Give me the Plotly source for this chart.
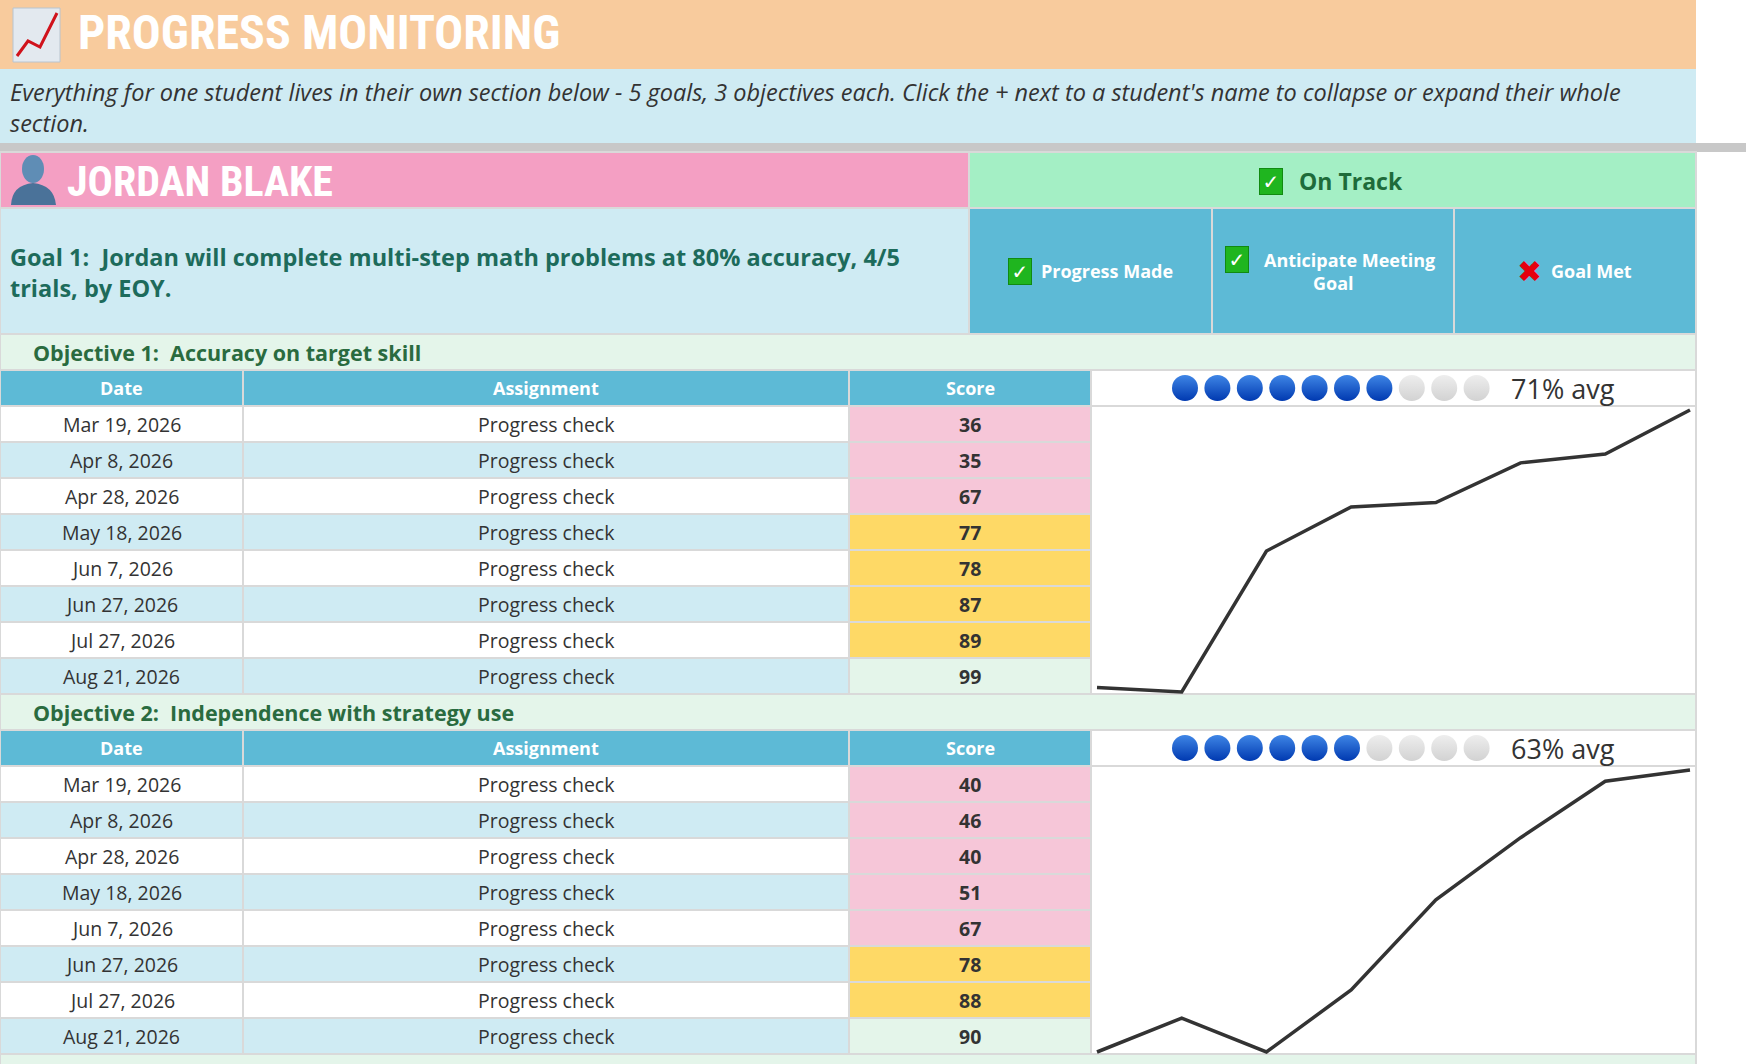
import math
import plotly.graph_objects as go

# ---- sheet content ----
page_title = "PROGRESS MONITORING"
intro_text = ("Everything for one student lives in their own section below - 5 goals, 3 objectives each. "
              "Click the + next to a student's name to collapse or expand their whole<br>section.")
student_name = "JORDAN BLAKE"
overall_status = "On Track"
goal_text = "Goal 1:  Jordan will complete multi-step math problems at 80% accuracy, 4/5<br>trials, by EOY."
status_labels = ["Progress Made", "Anticipate Meeting<br>Goal", "Goal Met"]
status_flags = [True, True, False]

objective_names = ["Objective 1:  Accuracy on target skill",
                   "Objective 2:  Independence with strategy use"]
table_columns = ["Date", "Assignment", "Score"]
check_dates = ["Mar 19, 2026", "Apr 8, 2026", "Apr 28, 2026", "May 18, 2026",
               "Jun 7, 2026", "Jun 27, 2026", "Jul 27, 2026", "Aug 21, 2026"]
assignments = ["Progress check"] * 8
obj1_scores = [36, 35, 67, 77, 78, 87, 89, 99]
obj2_scores = [40, 46, 40, 51, 67, 78, 88, 90]
objective_scores = [obj1_scores, obj2_scores]

# ---- page geometry (pixels) ----
W, H = 1746, 1064
SHEET_R = 1696
COLS = [0, 243, 849, 1091, SHEET_R]          # date | assignment | score | chart
STATUS_COLS = [969, 1212, 1454, SHEET_R]
ROW_H = 36
OBJ_TOP = 334
OBJ_BLOCK = ROW_H * 10

PEACH = "#F8CB9D"
SKY = "#CFEBF3"
PINK = "#F49FC3"
TRACK = "#A4EFC5"
BLUE = "#5DBAD6"
MINT = "#E4F5EA"
SCORE_LOW = "#F6C6D8"
SCORE_MID = "#FED966"
GRID = "#D9D9D9"
TEXT = "#333333"

BODY = "Open Sans, Lato, sans-serif"
DISPLAY = "Liberation Sans Narrow, Roboto Condensed, Open Sans, sans-serif"

shapes = []
annotations = []


def cell(x0, y0, x1, y1, fill, lw=2):
    shapes.append(dict(type="rect", xref="x", yref="y", x0=x0, y0=y0, x1=x1, y1=y1,
                       fillcolor=fill, line=dict(color=GRID, width=lw), layer="below"))


def label(x, y, s, size, color=TEXT, weight="normal", style="normal",
          xanchor="center", family=BODY, align="center"):
    annotations.append(dict(x=x, y=y, xref="x", yref="y", text=s, showarrow=False,
                            xanchor=xanchor, yanchor="middle", align=align,
                            font=dict(family=family, size=size, color=color,
                                      weight=weight, style=style)))


def check_box(x, y, ok):
    if ok:
        annotations.append(dict(x=x, y=y, xref="x", yref="y", text="✓", showarrow=False,
                                width=20, height=23, bgcolor="#1FB51F", bordercolor="#118A11",
                                borderwidth=1, borderpad=1,
                                font=dict(family="DejaVu Sans", size=20, color="white", weight="bold")))
    else:
        label(x, y, "✖", 30, color="#E5000E", family="DejaVu Sans")


def score_fill(v):
    if v < 70:
        return SCORE_LOW
    if v < 90:
        return SCORE_MID
    return MINT


# header bands
cell(0, 0, SHEET_R, 69, PEACH, lw=0)
cell(0, 69, SHEET_R, 143, SKY, lw=0)
cell(0, 143, W, 152, "#C8C8C8", lw=0)
cell(0, 152, STATUS_COLS[0], 208, PINK)
cell(STATUS_COLS[0], 152, SHEET_R, 208, TRACK)
cell(0, 208, STATUS_COLS[0], OBJ_TOP, SKY)
for i in range(3):
    cell(STATUS_COLS[i], 208, STATUS_COLS[i + 1], OBJ_TOP, BLUE)

# title icon: small chart tile with red trend line
shapes.append(dict(type="rect", xref="x", yref="y", x0=13, y0=8, x1=60, y1=62,
                   fillcolor="#E3E9EF", line=dict(color="#B8C4CF", width=1)))
shapes.append(dict(type="path", xref="x", yref="y", path="M 17 56 L 28 41 L 40 47 L 57 13",
                   line=dict(color="#D0121B", width=3)))
label(76, 32, page_title, 48, color="white", weight="bold", xanchor="left", family=DISPLAY)
label(8, 107, intro_text, 23.5, style="italic", xanchor="left", align="left")

# student icon + name
shapes.append(dict(type="circle", xref="x", yref="y", x0=22, y0=155, x1=44, y1=183,
                   fillcolor="#5F8DB5", line=dict(width=0)))
shapes.append(dict(type="path", xref="x", yref="y",
                   path="M 11 205 Q 12 185 33 183 Q 54 185 56 205 Z",
                   fillcolor="#4A7299", line=dict(width=0)))
label(65, 181, student_name, 42, color="white", weight="bold", xanchor="left", family=DISPLAY)

# overall status
track_cx = (STATUS_COLS[0] + SHEET_R) / 2
track_w = len(overall_status) * 0.6 * 23
check_box(track_cx - (track_w + 36) / 2 + 12, 181, True)
label(track_cx + 18, 181, overall_status, 23, color="#1E6B3A", weight="bold")

label(8, 272, goal_text, 23.5, color="#1D6B5B", weight="bold", xanchor="left", align="left")

for i, (txt, ok) in enumerate(zip(status_labels, status_flags)):
    cx = (STATUS_COLS[i] + STATUS_COLS[i + 1]) / 2
    lines = txt.split("<br>")
    n = len(lines)
    for j, ln in enumerate(lines):
        ly = 271 + (j - (n - 1) / 2) * 23
        if j == 0:
            tw = len(ln) * 0.56 * 18
            check_box(cx - (tw + 32) / 2 + 11, ly, ok)
            label(cx + 16, ly, ln, 18, color="white", weight="bold")
        else:
            label(cx, ly, ln, 18, color="white", weight="bold")

# objective blocks
dot_x, dot_y, dot_c, dot_g = [], [], [], []
traces = []
axes_layout = {}
for k, (name, scores) in enumerate(zip(objective_names, objective_scores)):
    y0 = OBJ_TOP + k * OBJ_BLOCK
    cell(0, y0, SHEET_R, y0 + ROW_H, MINT)
    label(31, y0 + ROW_H / 2, name, 21.5, color="#2A6B3F", weight="bold", xanchor="left")

    hy = y0 + ROW_H
    for c, col in enumerate(table_columns):
        cell(COLS[c], hy, COLS[c + 1], hy + ROW_H, BLUE)
        label((COLS[c] + COLS[c + 1]) / 2, hy + ROW_H / 2, col, 18, color="white", weight="bold")
    cell(COLS[3], hy, COLS[4], hy + ROW_H, "white")

    for r, (d, a, s) in enumerate(zip(check_dates, assignments, scores)):
        ry = hy + ROW_H * (r + 1)
        band = "white" if r % 2 == 0 else SKY
        cell(COLS[0], ry, COLS[1], ry + ROW_H, band)
        cell(COLS[1], ry, COLS[2], ry + ROW_H, band)
        cell(COLS[2], ry, COLS[3], ry + ROW_H, score_fill(s))
        label((COLS[0] + COLS[1]) / 2, ry + ROW_H / 2, d, 19.5)
        label((COLS[1] + COLS[2]) / 2, ry + ROW_H / 2, a, 19.5)
        label((COLS[2] + COLS[3]) / 2, ry + ROW_H / 2, str(s), 19.5, weight="bold")

    chart_top = hy + ROW_H
    chart_bot = y0 + OBJ_BLOCK
    cell(COLS[3], chart_top, COLS[4], chart_bot, "white")

    # average rating dots
    avg = math.floor(sum(scores) / len(scores) + 0.5)
    filled = int(sum(scores) / len(scores) // 10)
    for i in range(10):
        dot_x.append(1185 + 32.4 * i)
        dot_y.append(hy + ROW_H / 2)
        dot_c.append("#3F86E6" if i < filled else "#EEEEEE")
        dot_g.append("#0039B0" if i < filled else "#D2D2D2")
    label(1509, hy + ROW_H / 2, f"{avg}% avg", 27, xanchor="left")

    # sparkline on its own axes
    ax = k + 2
    span = max(scores) - min(scores)
    plot_h = chart_bot - chart_top
    plot_w = COLS[4] - COLS[3]
    step = (plot_w - 12) / (len(scores) - 1)
    ppu = (plot_h - 6) / span
    traces.append(go.Scatter(x=list(range(len(scores))), y=scores, mode="lines",
                             line=dict(color="#333333", width=3.5),
                             xaxis=f"x{ax}", yaxis=f"y{ax}", hoverinfo="skip",
                             showlegend=False))
    axes_layout[f"xaxis{ax}"] = dict(domain=[COLS[3] / W, COLS[4] / W],
                                     range=[-6 / step, len(scores) - 1 + 6 / step],
                                     visible=False, fixedrange=True, anchor=f"y{ax}")
    axes_layout[f"yaxis{ax}"] = dict(domain=[1 - chart_bot / H, 1 - chart_top / H],
                                     range=[min(scores) - 2 / ppu, max(scores) + 4 / ppu],
                                     visible=False, fixedrange=True, anchor=f"x{ax}")

# next objective row peeking at the bottom
cell(0, OBJ_TOP + 2 * OBJ_BLOCK, SHEET_R, OBJ_TOP + 2 * OBJ_BLOCK + ROW_H, MINT)

fig = go.Figure()
fig.add_trace(go.Scatter(x=dot_x, y=dot_y, mode="markers", hoverinfo="skip", showlegend=False,
                         marker=dict(symbol="circle", size=26, color=dot_c,
                                     gradient=dict(type="vertical", color=dot_g),
                                     line=dict(width=0))))
for t in traces:
    fig.add_trace(t)

fig.update_layout(
    width=W, height=H,
    margin=dict(l=0, r=0, t=0, b=0),
    paper_bgcolor="white", plot_bgcolor="rgba(0,0,0,0)",
    xaxis=dict(range=[0, W], domain=[0, 1], visible=False, fixedrange=True),
    yaxis=dict(range=[H, 0], domain=[0, 1], visible=False, fixedrange=True),
    shapes=shapes, annotations=annotations, showlegend=False,
    **axes_layout,
)

fig.write_html("out.html", config={"displayModeBar": False},
               post_script="document.body.style.margin='0';")
